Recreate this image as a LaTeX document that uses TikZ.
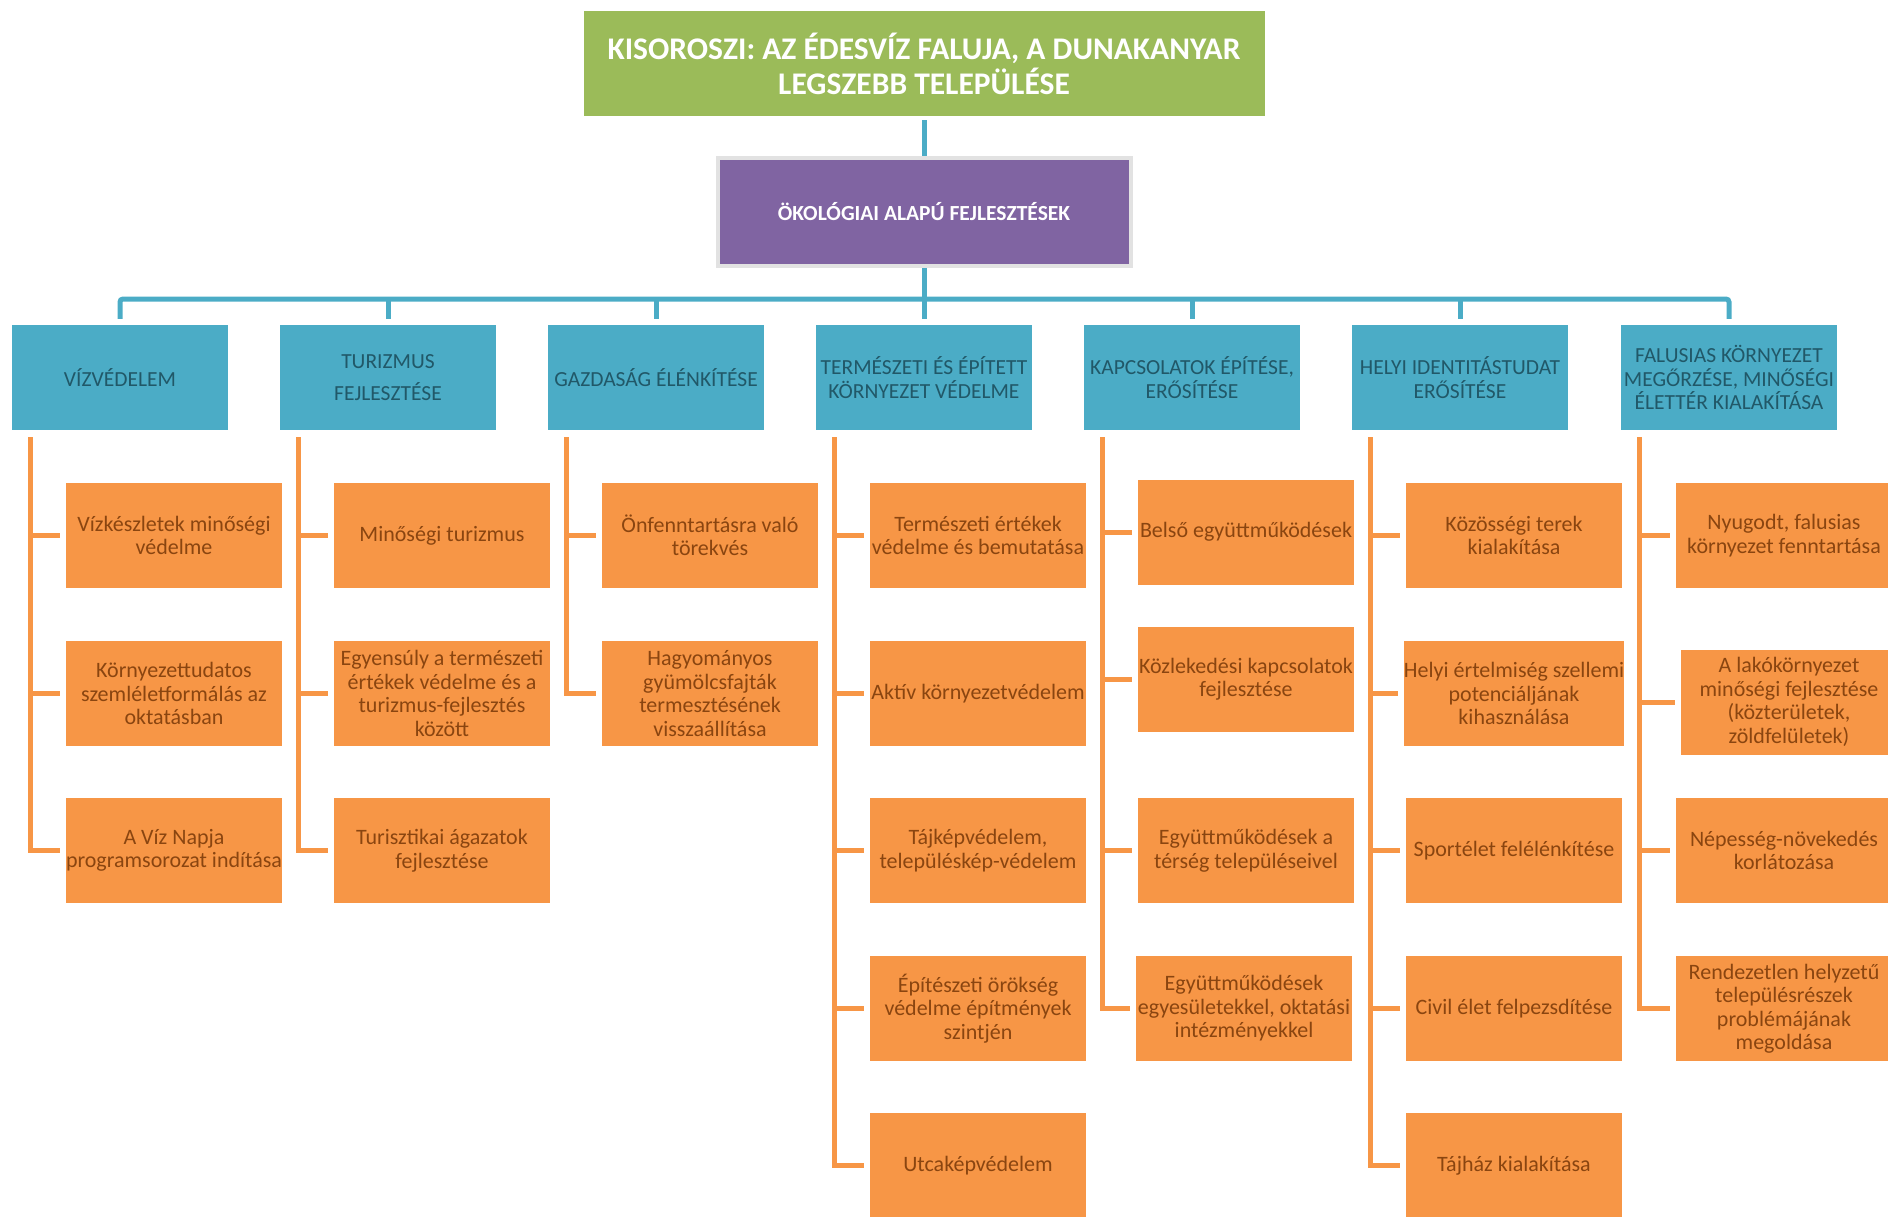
\documentclass[tikz,border=0pt]{standalone}
\usepackage{fontspec}
\setmainfont{Carlito}
\definecolor{grn}{HTML}{9BBB59}
\definecolor{purp}{HTML}{8064A2}
\definecolor{blu}{HTML}{4BACC6}
\definecolor{orng}{HTML}{F79646}
\definecolor{btxt}{HTML}{215868}
\definecolor{otxt}{HTML}{8A4510}
\definecolor{pframe}{HTML}{E2E2E2}
\begin{document}
\begin{tikzpicture}[x=1pt,y=-1pt,
  titlebox/.style={fill=grn, text=white, minimum width=681pt, minimum height=105pt, inner sep=0pt, align=center, font=\fontsize{31.5}{35}\selectfont\bfseries},
  purpbox/.style={fill=purp, draw=pframe, line width=4pt, text=white, minimum width=413pt, minimum height=108pt, inner sep=0pt, align=center, font=\fontsize{21.5}{24}\selectfont\bfseries},
  bbox/.style={fill=blu, text=btxt, minimum width=216pt, minimum height=105pt, inner sep=0pt, align=center, font=\fontsize{21.5}{23.5}\selectfont},
  obox/.style={fill=orng, text=otxt, minimum width=216pt, minimum height=105pt, inner sep=0pt, align=center, font=\fontsize{22}{23.5}\selectfont},
  bline/.style={draw=blu, line width=5pt},
  oline/.style={draw=orng, line width=5pt}]
\useasboundingbox (0,0) rectangle (1888,1216);
\clip (0,0) rectangle (1888,1216);

% top levels
\node[titlebox] (title) at (924,63.5) {KISOROSZI: AZ ÉDESVÍZ FALUJA, A DUNAKANYAR\\LEGSZEBB TELEPÜLÉSE};
\node[purpbox] (eco) at (924,212) {ÖKOLÓGIAI ALAPÚ FEJLESZTÉSEK};

% blue category boxes
\node[bbox] (b1) at (120,377.5) {VÍZVÉDELEM};
\node[bbox] (b2) at (388,377.5) {TURIZMUS\\[8pt]FEJLESZTÉSE};
\node[bbox] (b3) at (656,377.5) {GAZDASÁG ÉLÉNKÍTÉSE};
\node[bbox] (b4) at (924,377.5) {TERMÉSZETI ÉS ÉPÍTETT\\KÖRNYEZET VÉDELME};
\node[bbox] (b5) at (1192,377.5) {KAPCSOLATOK ÉPÍTÉSE,\\ERŐSÍTÉSE};
\node[bbox] (b6) at (1460,377.5) {HELYI IDENTITÁSTUDAT\\ERŐSÍTÉSE};
\node[bbox] (b7) at (1729,377.5) {FALUSIAS KÖRNYEZET\\MEGŐRZÉSE, MINŐSÉGI\\ÉLETTÉR KIALAKÍTÁSA};

% blue connectors
\coordinate (bar) at (924,299);
\draw[bline] ([yshift=-4pt]title.south) -- (eco.north);
\draw[bline] (eco.south) -- (bar);
\draw[bline, rounded corners=3pt] ([yshift=6pt]b1.north) |- (bar) -| ([yshift=6pt]b7.north);
\foreach \b in {b2,b3,b4,b5,b6} {\draw[bline] ([yshift=6pt]\b.north) -- (\b.north |- bar);}

% column 1
\node[obox] (c11) at (174,535.5) {Vízkészletek  minőségi\\védelme};
\node[obox] (c12) at (174,693.5) {Környezettudatos\\szemléletformálás az\\oktatásban};
\node[obox] (c13) at (174,850.5) {A Víz Napja\\programsorozat indítása};
% column 2
\node[obox] (c21) at (442,535.5) {Minőségi turizmus};
\node[obox] (c22) at (442,693.5) {Egyensúly a természeti\\értékek védelme és a\\turizmus-fejlesztés\\között};
\node[obox] (c23) at (442,850.5) {Turisztikai ágazatok\\fejlesztése};
% column 3
\node[obox] (c31) at (710,535.5) {Önfenntartásra való\\törekvés};
\node[obox] (c32) at (710,693.5) {Hagyományos\\gyümölcsfajták\\termesztésének\\visszaállítása};
% column 4
\node[obox] (c41) at (978,535.5) {Természeti értékek\\védelme és bemutatása};
\node[obox] (c42) at (978,693.5) {Aktív környezetvédelem};
\node[obox] (c43) at (978,850.5) {Tájképvédelem,\\településkép-védelem};
\node[obox] (c44) at (978,1008.5) {Építészeti örökség\\védelme építmények\\szintjén};
\node[obox] (c45) at (978,1165.5) {Utcaképvédelem};
% column 5
\node[obox] (c51) at (1246,532) {Belső együttműködések};
\node[obox] (c52) at (1246,679) {Közlekedési kapcsolatok\\fejlesztése};
\node[obox] (c53) at (1246,850.5) {Együttműködések a\\térség településeivel};
\node[obox] (c54) at (1244,1008.5) {Együttműködések\\egyesületekkel, oktatási\\intézményekkel};
% column 6
\node[obox] (c61) at (1514,535.5) {Közösségi terek\\kialakítása};
\node[obox] (c62) at (1514,693.5) {Helyi értelmiség szellemi\\potenciáljának\\kihasználása};
\node[obox] (c63) at (1514,850.5) {Sportélet felélénkítése};
\node[obox] (c64) at (1514,1008.5) {Civil élet felpezsdítése};
\node[obox] (c65) at (1514,1165.5) {Tájház kialakítása};
% column 7
\node[obox] (c71) at (1784,535.5) {Nyugodt, falusias\\környezet fenntartása};
\node[obox] (c72) at (1789,702) {A lakókörnyezet\\minőségi fejlesztése\\(közterületek,\\zöldfelületek)};
\node[obox] (c73) at (1784,850.5) {Népesség-növekedés\\korlátozása};
\node[obox] (c74) at (1784,1008.5) {Rendezetlen helyzetű\\településrészek\\problémájának\\megoldása};

% orange connectors
\coordinate (v1) at (30,437);
\coordinate (v2) at (298,437);
\coordinate (v3) at (566,437);
\coordinate (v4) at (834,437);
\coordinate (v5) at (1102,437);
\coordinate (v6) at (1370,437);
\coordinate (v7) at (1639,437);
\draw[oline] (v1) |- ([xshift=-6pt]c13.west);
\draw[oline] (v2) |- ([xshift=-6pt]c23.west);
\draw[oline] (v3) |- ([xshift=-6pt]c32.west);
\draw[oline] (v4) |- ([xshift=-6pt]c45.west);
\draw[oline] (v5) |- ([xshift=-6pt]c54.west);
\draw[oline] (v6) |- ([xshift=-6pt]c65.west);
\draw[oline] (v7) |- ([xshift=-6pt]c74.west);
\foreach \c/\v in {c11/v1,c12/v1,c21/v2,c22/v2,c31/v3,c41/v4,c42/v4,c43/v4,c44/v4,c51/v5,c52/v5,c53/v5,c61/v6,c62/v6,c63/v6,c64/v6,c71/v7,c72/v7,c73/v7}
  {\draw[oline] ([xshift=-6pt]\c.west) -- (\v |- \c.west);}
\end{tikzpicture}
\end{document}
